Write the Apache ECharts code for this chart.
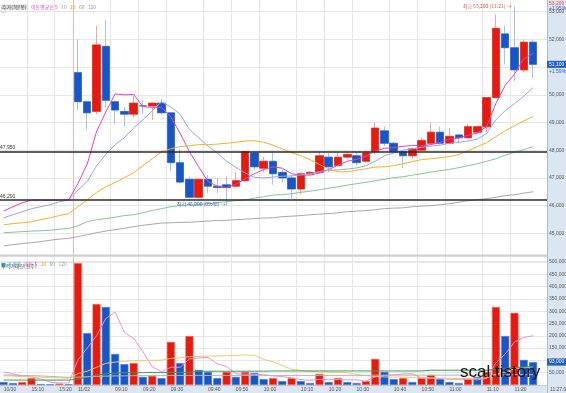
<!DOCTYPE html>
<html>
<head>
<meta charset="utf-8">
<script src="https://cdn.jsdelivr.net/npm/echarts@6/dist/echarts.min.js"></script>
<style>
html, body { margin: 0; padding: 0; background: #fff; }
#chart { width: 566px; height: 393px; }
</style>
</head>
<body>
<div id="chart"></div>
<script>
// 3분봉: 10/30 장마감 8개 + 11/02 09:00~11:27 50개 + 빈칸 1
var times = ['15:00', '15:03', '15:06', '15:12', '15:15', '15:18', '15:21', '15:30',
    '09:00', '09:03', '09:06', '09:09', '09:12', '09:15', '09:18', '09:21', '09:24', '09:27',
    '09:30', '09:33', '09:36', '09:39', '09:42', '09:45', '09:48', '09:51', '09:54', '09:57',
    '10:00', '10:03', '10:06', '10:09', '10:12', '10:15', '10:18', '10:21', '10:24', '10:27',
    '10:30', '10:33', '10:36', '10:39', '10:42', '10:45', '10:48', '10:51', '10:54', '10:57',
    '11:00', '11:03', '11:06', '11:09', '11:12', '11:15', '11:18', '11:21', '11:24', '11:27',
    '11:30'];

// 눈금 라벨 (카테고리 인덱스 / 글자)
var tickIdx = [0, 3, 6, 8, 12, 15, 18, 22, 25, 28, 32, 35, 38, 42, 45, 48, 52, 55];
var tickText = ['10/30', '15:10', '15:20', '11/02', '09:10', '09:20', '09:30', '09:40', '09:50',
    '10:00', '10:10', '10:20', '10:30', '10:40', '10:50', '11:00', '11:10', '11:20'];

// [시가, 종가, 저가, 고가]
var candles = ['-', '-', '-', '-', '-', '-', '-', '-',
    [50800, 49750, 49450, 52000], [49750, 49350, 48750, 49800], [49400, 51800, 49300, 52500],
    [51750, 49800, 49550, 52700], [49750, 49450, 48950, 49800], [49400, 49300, 48850, 49550],
    [49300, 49700, 49200, 49950], [49600, 49600, 49300, 49800], [49600, 49700, 49100, 49700],
    [49700, 49350, 49300, 49850], [49350, 47550, 47250, 49350], [47550, 46850, 46800, 48050],
    [46950, 46300, 46250, 47050], [46300, 46950, 46250, 47000], [46950, 46700, 46450, 47100],
    [46700, 46650, 46450, 47000], [46750, 46650, 46000, 47050], [46700, 46900, 46650, 47200],
    [46900, 47950, 46850, 47950], [47900, 47400, 47300, 47950], [47350, 47600, 47200, 47750],
    [47600, 47150, 46750, 47900], [47200, 47000, 46850, 47300], [47000, 46600, 46250, 47100],
    [46600, 47150, 46400, 47200], [47150, 47200, 47100, 47250], [47200, 47800, 47150, 47950],
    [47750, 47400, 47200, 47900], [47450, 47750, 47400, 47900], [47750, 47850, 47700, 47950],
    [47800, 47550, 47450, 47950], [47600, 47900, 47550, 48000], [47950, 48800, 47850, 49000],
    [48700, 48250, 48150, 48850], [48250, 47950, 47900, 48300], [47950, 47800, 47350, 48000],
    [47800, 48050, 47700, 48100], [48000, 48350, 47950, 48450], [48250, 48650, 48200, 49000],
    [48650, 48250, 48200, 48850], [48250, 48500, 48200, 48800], [48550, 48450, 48250, 48600],
    [48450, 48850, 48400, 48950], [48650, 48850, 48600, 48900], [48850, 49900, 48650, 49900],
    [49900, 52400, 49850, 52900], [52200, 51700, 51100, 52500], [51700, 50900, 50500, 53200],
    [50900, 51900, 50800, 52000], [51900, 51100, 50600, 52000],
    '-'];

var ma5 = [45800, 45960, 46100, 46200, 46200, 46200, 46200, 46200, 46800, 47500, 48670, 49380,
    50030, 50000, 50010, 49570, 49550, 49550, 49200, 48610, 47950, 47400, 46870, 46700,
    46650, 46770, 46970, 47150, 47300, 47400, 47350, 47150, 47100, 47100, 47180, 47300,
    47460, 47600, 47670, 47780, 47970, 48070, 48090, 48140, 48170, 48150, 48200, 48280,
    48400, 48440, 48540, 48620, 48850, 49690, 50340, 50750, 51300, 51500, '-'];
var ma10 = [45560, 45670, 45780, 45890, 45960, 46030, 46140, 46200, 46560, 46870, 47430, 47850,
    48200, 48450, 48800, 49100, 49420, 49750, 49560, 49300, 48750, 48450, 48150, 47900,
    47600, 47380, 47180, 47020, 47000, 47030, 47060, 47070, 47110, 47150, 47230, 47270,
    47290, 47320, 47360, 47440, 47600, 47800, 47900, 48000, 48050, 48100, 48150, 48180,
    48250, 48290, 48330, 48400, 48600, 49100, 49430, 49680, 49950, 50260, '-'];
var ma20 = [45310, 45350, 45380, 45420, 45490, 45560, 45640, 45710, 45960, 46210, 46470, 46680,
    46830, 47010, 47190, 47440, 47690, 47950, 48050, 48130, 48160, 48200, 48200, 48220,
    48250, 48290, 48330, 48340, 48290, 48180, 48050, 47910, 47800, 47660, 47480, 47330,
    47220, 47220, 47280, 47330, 47390, 47400, 47440, 47510, 47590, 47660, 47690, 47730,
    47770, 47840, 47980, 48130, 48270, 48490, 48700, 48880, 49060, 49210, '-'];
var ma60 = [45020, 45040, 45060, 45080, 45090, 45110, 45150, 45170, 45270, 45420, 45490, 45530,
    45580, 45640, 45670, 45740, 45820, 45890, 45960, 46000, 46020, 46030, 46070, 46110,
    46140, 46180, 46210, 46270, 46320, 46380, 46390, 46430, 46480, 46520, 46570, 46630,
    46680, 46740, 46790, 46840, 46900, 46950, 47010, 47040, 47100, 47150, 47210, 47260,
    47310, 47370, 47440, 47510, 47600, 47690, 47820, 47930, 48020, 48130, '-'];
var ma120 = [44550, 44590, 44630, 44660, 44700, 44750, 44790, 44820, 44880, 44950, 45020, 45080,
    45130, 45180, 45240, 45290, 45330, 45370, 45380, 45390, 45400, 45420, 45440, 45460,
    45470, 45490, 45510, 45530, 45550, 45560, 45600, 45620, 45640, 45670, 45690, 45710,
    45740, 45780, 45800, 45820, 45850, 45890, 45910, 45920, 45960, 45980, 46000, 46030,
    46070, 46120, 46180, 46210, 46250, 46300, 46360, 46390, 46450, 46500, '-'];

// 기준선 (전일 종가 등)
var refLines = [47950, 46200];
var highMark = { idx: 55, value: 53200, text: '최고 53,200 (11:21) →' };
var lowMark = { idx: 24, value: 46000, text: '최저 46,000 (09:48) →' };

// 거래량 (주)
var volume = [12000, 8000, 12000, 28000, 4000, 3000, 6000, 3000,
    495000, 211000, 329000, 317000, 126000, 85000, 89000, 33000, 37000, 28000,
    175000, 89000, 199000, 61000, 53000, 28000, 53000, 33000, 53000, 49000,
    24000, 28000, 16000, 28000, 16000, 8000, 45000, 12000, 28000, 12000,
    8000, 16000, 106000, 53000, 24000, 28000, 12000, 28000, 41000, 24000,
    12000, 8000, 28000, 33000, 53000, 317000, 199000, 293000, 102000, 93000, '-'];
var volUp = [0, 0, 1, 1, 0, 0, 1, 0,
    1, 0, 1, 0, 0, 0, 1, 0, 1, 0,
    1, 0, 1, 0, 0, 0, 1, 0, 1, 0,
    0, 1, 0, 1, 0, 0, 1, 0, 1, 0,
    0, 1, 1, 0, 0, 1, 0, 1, 1, 0,
    0, 0, 1, 0, 1, 1, 0, 1, 0, 0, 0];
var vma5 = [53000, 45000, 37000, 33000, 24000, 12000, 8000, 8000, 102000, 150000, 200000, 270000,
    296000, 214000, 189000, 135000, 74000, 54000, 72000, 72000, 106000, 110000, 112000, 86000,
    75000, 46000, 44000, 43000, 42000, 37000, 34000, 29000, 22000, 19000, 23000, 22000,
    22000, 21000, 21000, 15000, 34000, 39000, 41000, 45000, 45000, 29000, 27000, 27000,
    23000, 23000, 23000, 21000, 27000, 90000, 126000, 175000, 193000, 200000, '-'];
var vma20 = [37000, 36000, 34000, 33000, 32000, 30000, 29000, 28000, 46000, 56000, 72000, 88000,
    93000, 96000, 99000, 100000, 100000, 101000, 108000, 110000, 115000, 116000, 117000, 118000,
    119000, 120000, 122000, 121000, 104000, 94000, 79000, 64000, 59000, 55000, 53000, 52000,
    51000, 50000, 42000, 38000, 34000, 33000, 32000, 32000, 30000, 30000, 29000, 28000,
    27000, 26000, 27000, 27000, 29000, 44000, 52000, 66000, 70000, 74000, '-'];
var vma60 = [20000, 20000, 20000, 20000, 20000, 20000, 20000, 20000, 24000, 32000, 40000, 45000,
    48000, 50000, 50000, 50000, 51000, 51000, 51000, 51000, 51000, 56000, 56000, 56000,
    56000, 56000, 56000, 56000, 56000, 57000, 57000, 57000, 57000, 57000, 57000, 57000,
    57000, 57000, 57000, 57000, 57000, 57000, 57000, 57000, 57000, 57000, 60000, 60000,
    60000, 60000, 60000, 60000, 60000, 64000, 68000, 71000, 73000, 75000, '-'];
var vma120 = [41000, 40000, 39000, 38000, 37000, 35000, 33000, 31000, 32000, 34000, 35000, 36000,
    37000, 37000, 38000, 38000, 38000, 38000, 39000, 39000, 39000, 39000, 39000, 39000,
    39000, 39000, 39000, 39000, 39000, 39000, 39000, 39000, 39000, 39000, 39000, 39000,
    39000, 39000, 39000, 39000, 40000, 40000, 40000, 40000, 40000, 40000, 40000, 40000,
    40000, 40000, 40000, 40000, 40000, 41000, 41000, 42000, 42000, 42000, '-'];

var UP = '#e8190d', DOWN = '#1656c8';
var UP_WICK = '#f3a49c', DOWN_WICK = '#a9c0ea';
var GRID_C = '#e7e7e7';
var FONT = "'Liberation Sans', 'Noto Sans CJK KR', sans-serif";
var KFONT = "'Noto Sans CJK KR', 'Liberation Sans', sans-serif";

function fmt(v) {
    return String(v).replace(/\B(?=(\d{3})+(?!\d))/g, ',');
}

var bodies = candles.map(function (c) {
    if (c === '-') return '-';
    return [c[0], c[1], Math.min(c[0], c[1]), Math.max(c[0], c[1])];
});

var volData = volume.map(function (v, i) {
    if (v === '-') return '-';
    return {
        value: v,
        itemStyle: { color: volUp[i] ? UP : DOWN, borderColor: volUp[i] ? '#f06a5e' : '#4f82d8', borderWidth: 0.6 }
    };
});

var gridIdx = tickIdx.slice(1);
var gridColors = gridIdx.map(function (i) { return i === 8 ? '#f4b4b4' : GRID_C; });

function xAxisFor(gi, showLabel) {
    return {
        type: 'category',
        gridIndex: gi,
        data: times,
        boundaryGap: true,
        axisLine: { show: showLabel, lineStyle: { color: '#c9c9c9', width: 1 } },
        axisTick: { show: false },
        axisLabel: {
            show: showLabel,
            interval: function (i) { return tickIdx.indexOf(i) >= 0; },
            formatter: function (v, i) { return tickText[tickIdx.indexOf(i)]; },
            fontSize: 5,
            fontFamily: FONT,
            color: '#555',
            align: 'left',
            margin: 2,
            hideOverlap: false
        },
        splitLine: {
            show: true,
            interval: function (i) { return gridIdx.indexOf(i) >= 0; },
            lineStyle: { color: gridColors, width: 1 }
        }
    };
}

function lineSeries(name, data, color, xi, yi) {
    return {
        name: name,
        type: 'line',
        xAxisIndex: xi,
        yAxisIndex: yi,
        data: data,
        symbol: 'none',
        smooth: false,
        lineStyle: { color: color, width: 1 },
        z: 4,
        silent: true
    };
}

// 오른쪽 축의 현재값 표시
function lastValueLine(v) {
    return {
        silent: true,
        symbol: 'none',
        lineStyle: { color: 'rgba(0,0,0,0)', width: 0 },
        label: {
            position: 'end', distance: 0, fontSize: 5, color: '#fff', backgroundColor: '#1d5fd0',
            padding: [1, 3, 1, 2], formatter: function (p) { return fmt(p.value); }
        },
        data: [{ yAxis: v }],
        z: 8
    };
}

var option = {
    animation: false,
    backgroundColor: '#fff',
    textStyle: { fontFamily: FONT },
    grid: [
        { left: -1, right: 19, top: -16, height: 277, outerBoundsMode: 'none', containLabel: false },
        { left: -1, right: 19, top: 256, bottom: 8, outerBoundsMode: 'none', containLabel: false }
    ],
    xAxis: [xAxisFor(0, false), xAxisFor(1, true)],
    yAxis: [
        {
            type: 'value', gridIndex: 0, position: 'right', scale: true,
            min: 44000, max: 54000, interval: 1000,
            axisLine: { show: false }, axisTick: { show: false },
            axisLabel: { fontSize: 5, color: '#555', margin: 2, formatter: fmt, showMinLabel: false, showMaxLabel: false },
            splitLine: { lineStyle: { color: GRID_C, width: 1 } }
        },
        {
            type: 'value', gridIndex: 1, position: 'right',
            min: 0, max: 524000, interval: 50000,
            axisLine: { show: false }, axisTick: { show: false },
            axisLabel: { fontSize: 5, color: '#555', margin: 2, formatter: fmt, showMinLabel: false, showMaxLabel: false },
            splitLine: { lineStyle: { color: GRID_C, width: 1 } }
        }
    ],
    series: [
        {
            name: '꼬리',
            type: 'candlestick',
            xAxisIndex: 0, yAxisIndex: 0,
            data: candles,
            barWidth: 8,
            itemStyle: { color: UP_WICK, color0: DOWN_WICK, borderColor: UP_WICK, borderColor0: DOWN_WICK, borderWidth: 1 },
            z: 2,
            silent: true,
            markLine: {
                silent: true,
                symbol: 'none',
                lineStyle: { color: '#2a2a2a', width: 1.6, type: 'solid' },
                label: {
                    position: 'insideStartTop', distance: 1, fontSize: 5, color: '#333',
                    formatter: function (p) { return fmt(p.value); }
                },
                data: refLines.map(function (v) { return { yAxis: v }; }),
                z: 6
            }
        },
        {
            name: '주가',
            type: 'candlestick',
            xAxisIndex: 0, yAxisIndex: 0,
            data: bodies,
            barWidth: 8,
            itemStyle: { color: UP, color0: DOWN, borderColor: UP, borderColor0: DOWN, borderWidth: 0.5 },
            z: 3,
            silent: true,
            markPoint: {
                symbol: 'circle', symbolSize: 0, silent: true,
                data: [
                    {
                        coord: [highMark.idx, highMark.value],
                        label: { show: true, position: 'left', distance: 3, formatter: highMark.text, fontSize: 5, color: '#ef4a3c', fontFamily: KFONT }
                    },
                    {
                        coord: [lowMark.idx, lowMark.value],
                        label: { show: true, position: 'left', distance: 1, formatter: lowMark.text, fontSize: 5, color: '#3358d0', fontFamily: KFONT, offset: [0, -2] }
                    }
                ]
            },
            markLine: lastValueLine(candles[57][1])
        },
        lineSeries('MA5', ma5, '#e23fc7', 0, 0),
        lineSeries('MA10', ma10, '#98a4e8', 0, 0),
        lineSeries('MA20', ma20, '#f4b124', 0, 0),
        lineSeries('MA60', ma60, '#7fcb8e', 0, 0),
        lineSeries('MA120', ma120, '#a8a8a8', 0, 0),
        {
            name: '거래량',
            type: 'bar',
            xAxisIndex: 1, yAxisIndex: 1,
            data: volData,
            barWidth: 8,
            z: 2,
            silent: true,
            markLine: lastValueLine(volume[57])
        },
        lineSeries('VMA5', vma5, '#ee8fdc', 1, 1),
        lineSeries('VMA20', vma20, '#f5c86a', 1, 1),
        lineSeries('VMA60', vma60, '#3e9a54', 1, 1),
        lineSeries('VMA120', vma120, '#b4b4b4', 1, 1)
    ],
    graphic: [
        { type: 'rect', z: -1, shape: { x: 547, y: 0, width: 19, height: 393 }, style: { fill: '#dce6f2' } },
        { type: 'rect', z: -1, shape: { x: 0, y: 385.5, width: 566, height: 8 }, style: { fill: '#dce6f2' } },
        { type: 'rect', z: 1, shape: { x: 547, y: 0, width: 1, height: 393 }, style: { fill: '#a9bcd6' } },
        { type: 'rect', z: 1, shape: { x: 0, y: 254.5, width: 547, height: 2 }, style: { fill: '#cfcfcf' } },
        {
            type: 'text', left: 1, top: 1, z: 10,
            style: {
                text: '{a|주가(3분봉)} {m5|이동평균선 5} {m10|10} {m20|20} {m60|60} {m120|120}',
                rich: {
                    a: { fontSize: 5, fill: '#444', backgroundColor: '#dedede', fontFamily: KFONT, padding: [0, 1] },
                    m5: { fontSize: 5, fill: '#e23fc7', fontFamily: KFONT },
                    m10: { fontSize: 5, fill: '#7d8ee0', fontFamily: KFONT },
                    m20: { fontSize: 5, fill: '#e6a41a', fontFamily: KFONT },
                    m60: { fontSize: 5, fill: '#5fb872', fontFamily: KFONT },
                    m120: { fontSize: 5, fill: '#999', fontFamily: KFONT }
                }
            }
        },
        { type: 'text', left: 1, top: 8, z: 10, style: { text: '□', fontSize: 5, fill: '#777', fontFamily: KFONT } },
        {
            type: 'text', left: 1, top: 258, z: 10,
            style: {
                text: '{a|■ 거래량} {m5|이동 5} {m20|20} {m60|60} {m120|120}',
                rich: {
                    a: { fontSize: 5, fill: '#2a9cc8', fontFamily: KFONT },
                    m5: { fontSize: 5, fill: '#e23fc7', fontFamily: KFONT },
                    m20: { fontSize: 5, fill: '#e6a41a', fontFamily: KFONT },
                    m60: { fontSize: 5, fill: '#5fb872', fontFamily: KFONT },
                    m120: { fontSize: 5, fill: '#999', fontFamily: KFONT }
                }
            }
        },
        { type: 'text', left: 1, top: 264, z: 10, style: { text: '누적거래량(천주)', fontSize: 5, fill: '#555', fontFamily: KFONT } },
        { type: 'text', left: 549, top: 1, z: 10, style: { text: '53,200', fontSize: 5, fill: '#ef4a3c', fontFamily: FONT } },
        { type: 'text', left: 549, top: 6, z: 10, style: { text: '+1.95%', fontSize: 5, fill: '#3358d0', fontFamily: FONT } },
        { type: 'text', left: 549, top: 69, z: 10, style: { text: '+1.59%', fontSize: 5, fill: '#3358d0', fontFamily: FONT } },
        { type: 'text', left: 550, top: 387, z: 10, style: { text: '11:27:00', fontSize: 5, fill: '#555', fontFamily: FONT } },
        { type: 'text', left: 460, top: 364, z: 20, style: { text: 'scal.tistory', fontSize: 17, fill: '#111', fontFamily: "'Liberation Sans', sans-serif" } }
    ]
};

var chart = echarts.init(document.getElementById('chart'));
chart.setOption(option);
</script>
</body>
</html>
